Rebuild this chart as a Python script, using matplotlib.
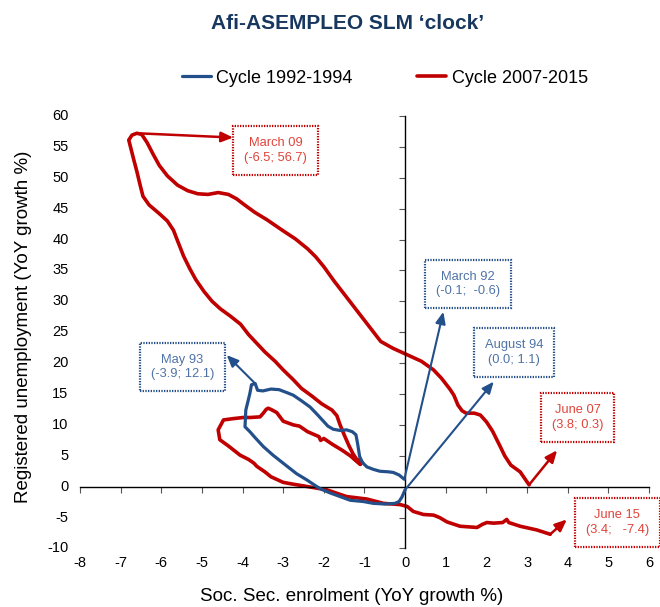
"""Afi-ASEMPLEO SLM 'clock' - employment vs unemployment growth cycles."""
import matplotlib
matplotlib.use('Agg')
import matplotlib.pyplot as plt
import matplotlib.transforms as mtransforms

plt.rcParams['font.family'] = ['Liberation Sans', 'DejaVu Sans']

# --- data (YoY growth %) ---
# cycle 2007-2015, chronological from June 07
red_x = [3.05, 2.83, 2.6, 2.45, 2.34, 2.15, 2.0, 1.85, 1.7, 1.5, 1.4, 1.3, 1.2, 1.1,
         0.9, 0.7, 0.4, 0.0, -0.3, -0.6, -0.8, -0.95, -1.2, -1.45, -1.75, -2.0, -2.2,
         -2.4, -2.7, -3.0, -3.4, -3.7, -3.95, -4.15, -4.35, -4.6, -4.85, -5.1, -5.35,
         -5.6, -5.85, -6.05, -6.2, -6.35, -6.48, -6.6, -6.72, -6.8, -6.75, -6.68, -6.6,
         -6.52, -6.45, -6.3, -6.05, -5.85, -5.7, -5.6, -5.45, -5.3, -5.15, -4.95, -4.75,
         -4.55, -4.3, -4.05, -3.85, -3.65, -3.45, -3.2, -3.0, -2.75, -2.55, -2.3, -2.05,
         -1.8, -1.68, -1.6, -1.5, -1.38, -1.28, -1.18, -1.05, -1.25, -1.1, -1.35, -1.55,
         -1.8, -2.0, -2.08, -2.12, -2.4, -2.6, -2.75, -3.0, -3.16, -3.3, -3.37, -3.42,
         -3.49, -3.57, -3.8, -3.98, -4.25, -4.47, -4.6, -4.56, -4.35, -4.06, -3.85, -3.72,
         -3.65, -3.45, -3.3, -3.0, -2.75, -2.3, -1.93, -1.44, -0.94, -0.53, -0.12, 0.05,
         0.2, 0.45, 0.7, 0.85, 1.03, 1.35, 1.77, 1.9, 2.01, 2.18, 2.4, 2.5, 2.55, 2.83,
         3.24, 3.57]
red_y = [0.3, 2.4, 3.5, 5.0, 6.5, 9.0, 10.5, 11.6, 11.9, 11.9, 12.3, 13.2, 14.8, 15.8,
         17.5, 18.9, 20.3, 21.5, 22.4, 23.5, 25.2, 26.5, 28.6, 30.7, 33.3, 35.6, 37.2,
         38.5, 40.1, 41.4, 43.2, 44.4, 45.6, 46.6, 47.3, 47.6, 47.3, 47.4, 47.9,
         48.8, 50.3, 52.0, 53.8, 55.7, 57.0, 57.2, 56.9, 56.1, 54.8, 53.0, 51.0,
         48.8, 47.0, 45.6, 44.2, 43.0, 41.5, 39.8, 37.3, 35.3, 33.5, 31.6, 30.0,
         28.8, 27.6, 26.3, 24.6, 23.2, 21.8, 20.3, 18.9, 17.3, 15.9, 14.7, 13.4,
         12.4, 11.5, 10.0, 8.4, 6.6, 5.3, 4.3, 3.9, 4.6, 3.6, 5.0, 5.9,
         6.9, 7.8, 7.5, 8.1, 8.9, 9.8, 10.0, 10.6, 12.0, 12.5, 12.7, 12.5,
         11.9, 11.3, 11.2, 11.2, 11.0, 10.8, 9.2, 7.6, 6.6, 5.1, 4.4, 3.8,
         3.3, 2.4, 1.6, 0.7, 0.4, -0.1, -0.5, -1.6, -2.0, -2.7, -2.9, -3.2,
         -4.0, -4.5, -4.6, -5.0, -5.7, -6.4, -6.6, -6.1, -5.8, -5.9, -5.8, -5.3, -5.8, -6.4,
         -7.0, -7.7]

# cycle 1992-1994, chronological from March 92
blue_x = [0.0, -0.04, -0.08, -0.15, -0.25, -0.5, -0.78, -1.03, -1.35, -1.85, -2.1,
          -2.42, -2.67, -3.0, -3.25, -3.49, -3.7, -3.82, -3.94, -3.93, -3.92, -3.86,
          -3.82, -3.78, -3.69, -3.63, -3.5, -3.3, -3.1, -2.9, -2.75, -2.55, -2.34,
          -2.15, -1.9, -1.77, -1.6, -1.44, -1.3, -1.21, -1.17, -1.12, -1.05, -0.94,
          -0.78, -0.62, -0.4, -0.29, -0.15, -0.02]
blue_y = [-0.5, -1.1, -1.7, -2.4, -2.7, -2.8, -2.7, -2.4, -2.2, -1.0, -0.3,
          1.1, 2.1, 3.8, 5.1, 6.5, 8.0, 8.9, 9.7, 11.0, 12.4, 14.0,
          15.1, 16.5, 16.7, 15.6, 15.5, 15.8, 15.7, 15.2, 14.8, 13.9, 12.9,
          11.6, 9.8, 9.3, 9.1, 9.2, 8.9, 8.4, 7.0, 4.9, 3.9, 3.2,
          2.8, 2.5, 2.4, 2.3, 1.9, 1.2]

x_ticks = list(range(-8, 7))
y_ticks = list(range(-10, 61, 5))

# annotations: label, coordinates text, series, index of the labelled point
ann_names = ['March 09', 'May 93', 'March 92', 'August 94', 'June 07', 'June 15']
ann_values = ['(-6.5; 56.7)', '(-3.9; 12.1)', '(-0.1;  -0.6)', '(0.0; 1.1)',
              '(3.8; 0.3)', '(3.4;   -7.4)']
ann_series = ['red', 'blue', 'blue', 'blue', 'red', 'red']
ann_index = [45, 24, -1, 0, 0, -1]

RED = '#C00000'
BLUE = '#23508A'
RED_TXT = '#E0443A'
BLUE_TXT = '#4F73A6'

fig = plt.figure(figsize=(6.6, 6.07), dpi=100)
ax = fig.add_axes([0.1212, 0.0964, 0.8621, 0.7126])

ax.plot(blue_x, blue_y, color=BLUE, lw=2.3, solid_joinstyle='round',
        solid_capstyle='round', label='Cycle 1992-1994', zorder=3)
ax.plot(red_x, red_y, color=RED, lw=2.6, solid_joinstyle='round',
        solid_capstyle='round', label='Cycle 2007-2015', zorder=2)

ax.set_xlim(-8, 6)
ax.set_ylim(-10, 60)
for s in ['top', 'right']:
    ax.spines[s].set_visible(False)
ax.spines['left'].set_position(('data', 0))
ax.spines['bottom'].set_position(('data', 0))
ax.spines['left'].set_linewidth(1.0)
ax.spines['bottom'].set_linewidth(1.0)
ax.set_xticks(x_ticks)
ax.set_yticks(y_ticks)
ax.tick_params(axis='both', direction='out', length=4, width=0.8,
               color='#555555', labelleft=False, labelbottom=False)

# tick labels sit at the outer edge of the plot, not next to the crossing axes
ty = mtransforms.blended_transform_factory(ax.transAxes, ax.transData)
for v in y_ticks:
    ax.text(-0.02, v, str(v), transform=ty, ha='right', va='center', fontsize=10.5)
tx = mtransforms.blended_transform_factory(ax.transData, ax.transAxes)
for v in x_ticks:
    ax.text(v, -0.018, str(v), transform=tx, ha='center', va='top', fontsize=10.5)

# annotation boxes (centres and arrow heads in data units, layout only)
box_xy = [(-3.19, 54.4), (-5.48, 19.4), (1.55, 32.8), (2.68, 21.7), (4.24, 11.2), (5.22, -5.8)]
head_xy = [(-4.23, 56.5), (-4.39, 21.3), (0.94, 28.3), (2.18, 17.0), (3.74, 5.9), (3.98, -5.3)]
series = {'red': (red_x, red_y), 'blue': (blue_x, blue_y)}
for name, val, ser, idx, bxy, hxy in zip(ann_names, ann_values, ann_series,
                                         ann_index, box_xy, head_xy):
    xs, ys = series[ser]
    c = RED if ser == 'red' else BLUE
    tc = RED_TXT if ser == 'red' else BLUE_TXT
    ax.annotate('', xy=hxy, xytext=(xs[idx], ys[idx]),
                arrowprops=dict(arrowstyle='-|>,head_length=0.7,head_width=0.3',
                                color=c, lw=1.8 if ser == 'red' else 1.5,
                                shrinkA=0, shrinkB=0), zorder=4)
    ax.text(bxy[0], bxy[1], name + '\n' + val, ha='center', va='center',
            fontsize=9.3, color=tc, linespacing=1.25, zorder=5,
            bbox=dict(boxstyle='square,pad=0.85', fc='white', ec=c,
                      lw=1.6, ls=(0, (0.6, 0.6))))

fig.text(0.527, 0.962, "Afi-ASEMPLEO SLM \u2018clock\u2019", ha='center', va='center',
         fontsize=15, fontweight='bold', color='#17375E')
fig.legend(loc='center', bbox_to_anchor=(0.583, 0.871), ncol=2, frameon=False,
           fontsize=13, handlelength=1.6, handletextpad=0.3, columnspacing=3.6)
fig.text(0.533, 0.018, 'Soc. Sec. enrolment (YoY growth %)', ha='center', va='center',
         fontsize=13.5)
fig.text(0.036, 0.462, 'Registered unemployment (YoY growth %)', ha='center',
         va='center', rotation=90, fontsize=13.5)

fig.savefig('out.png', dpi=100)
